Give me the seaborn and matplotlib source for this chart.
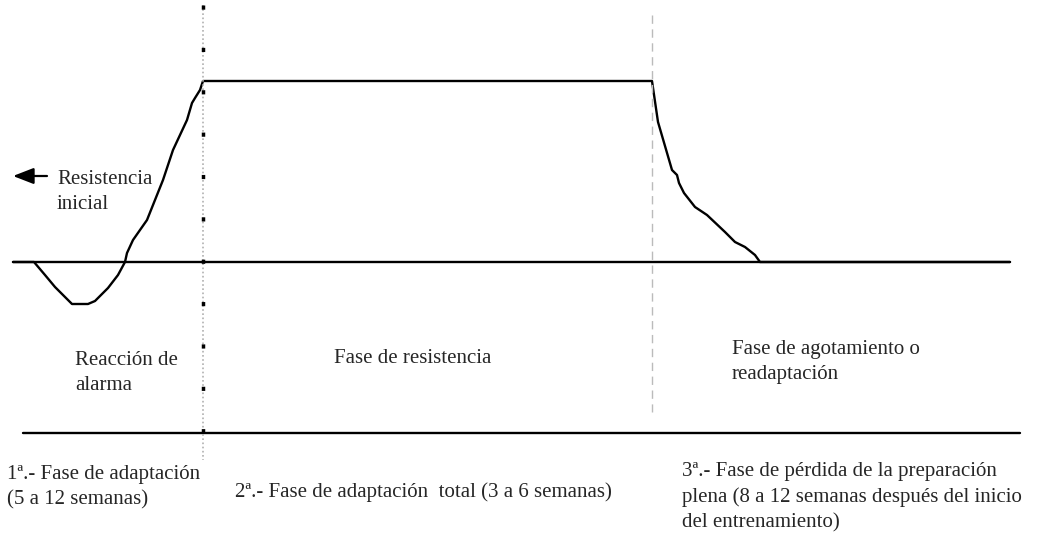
import pandas as pd
import matplotlib.pyplot as plt
import seaborn as sns

sns.set_style("white")
plt.rcParams['font.family'] = ['Liberation Serif', 'DejaVu Serif']

# curve of the response, in picture pixels (x right, y down)
curve_x = [13, 34, 45, 55, 72, 88, 95, 108, 118, 125, 127, 133, 147, 163, 173, 187, 192, 195, 200, 203,
           652, 658, 672, 677, 679, 684, 695, 707, 725, 735, 745, 755, 760, 1010]
curve_y = [262, 262, 275, 287, 304, 304, 301, 288, 275, 262, 253, 240, 220, 180, 150, 120, 103, 98, 90, 81,
           81, 122, 170, 175, 183, 193, 207, 215, 232, 242, 247, 255, 262, 262]

base_x = [13, 1010]
base_y = [262, 262]
bottom_x = [23, 1020]
bottom_y = [433, 433]

phase_labels = ["Reacción de\nalarma", "Fase de resistencia", "Fase de agotamiento o\nreadaptación"]
phase_x = [75, 334, 732]
phase_y = [390, 363, 379]  # baseline of the last line

week_labels = ["1ª.- Fase de adaptación\n(5 a 12 semanas)",
               "2ª.- Fase de adaptación  total (3 a 6 semanas)",
               "3ª.- Fase de pérdida de la preparación\nplena (8 a 12 semanas después del inicio\ndel entrenamiento)"]
week_x = [7, 235, 682]
week_y = [504, 497, 527]

fig, ax = plt.subplots(figsize=(10.43, 5.35), dpi=100)
fig.subplots_adjust(0, 0, 1, 1)

df = pd.DataFrame({"x": curve_x, "y": curve_y})
sns.lineplot(data=df, x="x", y="y", sort=False, color="black", lw=1.7, ax=ax)
sns.lineplot(x=base_x, y=base_y, color="black", lw=1.7, ax=ax)
sns.lineplot(x=bottom_x, y=bottom_y, color="black", lw=1.7, ax=ax)

# separators
ax.plot([203, 203], [5, 460], color="#b0b0b0", lw=1.2, ls=(0, (1, 1.5)))
ax.plot([203, 203], [5, 460], color="black", lw=2.5, ls=(0, (1.2, 11)))
ax.plot([652, 652], [15, 412], color="#bbbbbb", lw=1.0, ls=(0, (6, 4)))

ax.annotate("", xy=(13, 176), xytext=(47, 176),
            arrowprops=dict(arrowstyle="-|>,head_length=0.9,head_width=0.35",
                            color="black", lw=1.6, mutation_scale=14, shrinkA=0, shrinkB=0))
ax.text(57, 209, "Resistencia\ninicial", fontsize=15, va="baseline", linespacing=1.42)

for t, x, y in zip(phase_labels, phase_x, phase_y):
    ax.text(x, y, t, fontsize=15, va="baseline", ha="left", linespacing=1.42)
for t, x, y in zip(week_labels, week_x, week_y):
    ax.text(x, y, t, fontsize=15, va="baseline", ha="left", linespacing=1.42)

ax.set_xlim(0, 1043)
ax.set_ylim(535, 0)
ax.axis("off")
fig.savefig("out.png", dpi=100)
